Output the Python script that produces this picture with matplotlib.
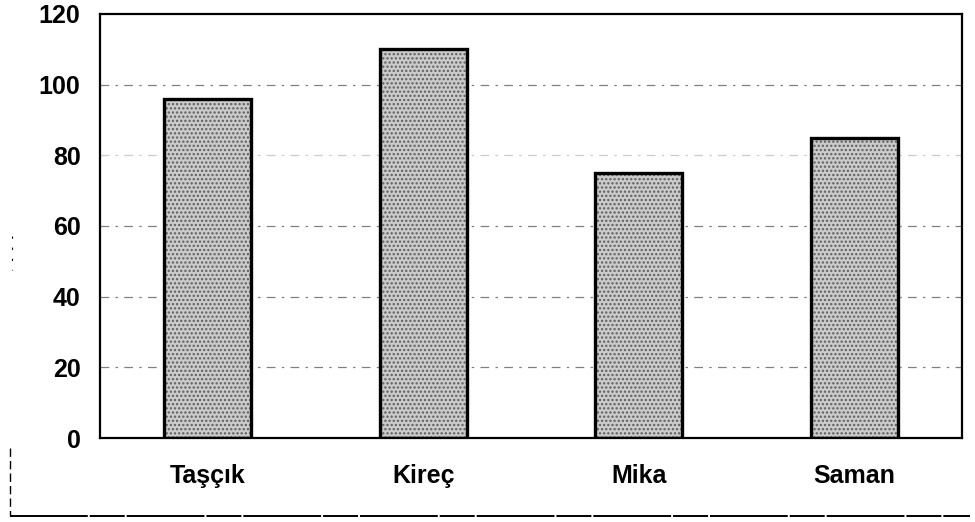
import matplotlib
matplotlib.use("Agg")
import matplotlib.pyplot as plt
from matplotlib.lines import Line2D

categories = ["Taşçık", "Kireç", "Mika", "Saman"]
values = [96, 110, 75, 85]
yticks = [0, 20, 40, 60, 80, 100, 120]

plt.rcParams["font.family"] = ["Liberation Sans", "DejaVu Sans"]
plt.rcParams["hatch.linewidth"] = 1.1

fig = plt.figure(figsize=(9.75, 5.22), dpi=100)
ax = fig.add_axes([0.1026, 0.1609, 0.8841, 0.8123])

x = range(len(categories))

# dotted-looking dash-dot gridlines behind the bars
for y in yticks[1:-1]:
    ax.axhline(y, color="#555555", lw=0.9, ls=(0, (7, 5, 2, 5)), zorder=0.5,
               alpha=0.3 if y == 80 else 0.75)

# stippled grey fill, then a heavy black outline
ax.bar(x, values, width=0.405, color="#cbcbcb", edgecolor="#5e5e5e",
       hatch="....", linewidth=0, zorder=2)
ax.bar(x, values, width=0.405, facecolor="none", edgecolor="black",
       linewidth=2.4, zorder=3)

ax.set_xlim(-0.5, len(categories) - 0.5)
ax.set_ylim(0, 120)
ax.set_yticks(yticks)
ax.set_yticklabels([str(t) for t in yticks])
ax.set_xticks(list(x))
ax.set_xticklabels(categories)
ax.tick_params(axis="both", length=0, labelsize=18)
ax.tick_params(axis="y", pad=14)
ax.tick_params(axis="x", pad=19)
for lab in ax.get_xticklabels() + ax.get_yticklabels():
    lab.set_fontweight("bold")

for sp in ax.spines.values():
    sp.set_linewidth(1.6)
    sp.set_color("black")

# outer chart-area border (bottom and left edge)
W, H = 975, 522
fig.add_artist(Line2D([10 / W, 970 / W], [1 - 516 / H, 1 - 516 / H],
                      transform=fig.transFigure, color="black", lw=1.4,
                      ls=(0, (40, 1, 18, 1))))
fig.add_artist(Line2D([10 / W, 10 / W], [1 - 448 / H, 1 - 516 / H],
                      transform=fig.transFigure, color="black", lw=1.0,
                      ls=(0, (6, 3))))
fig.add_artist(Line2D([12 / W, 12 / W], [1 - 236 / H, 1 - 270 / H],
                      transform=fig.transFigure, color="black", lw=0.8,
                      ls=(0, (2, 8))))

fig.savefig("out.png", dpi=100)
